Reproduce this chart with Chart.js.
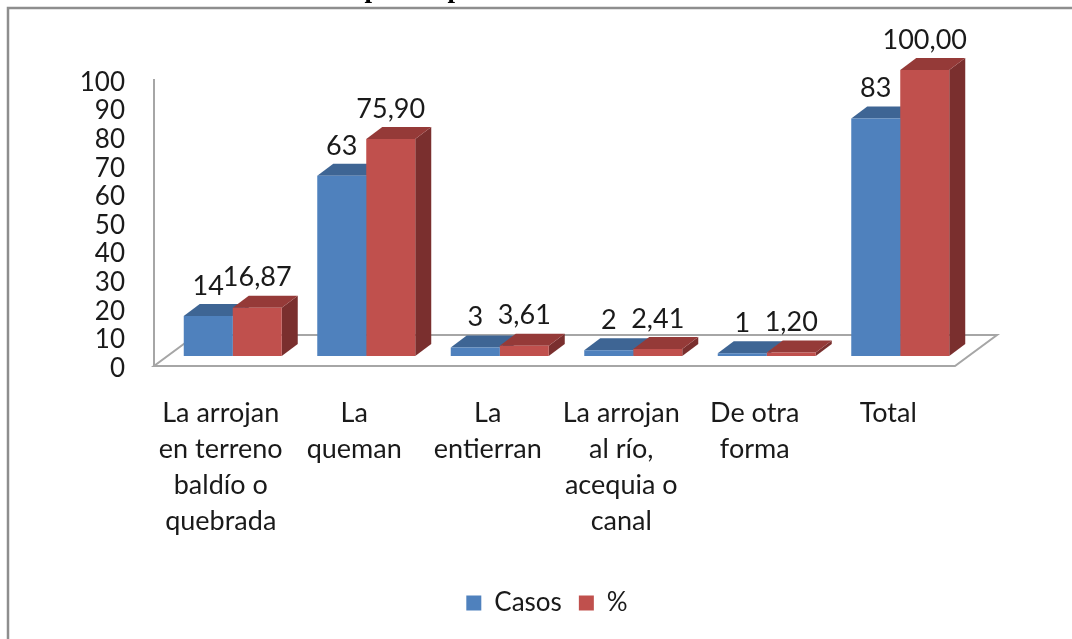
<!DOCTYPE html>
<html>
<head>
<meta charset="utf-8">
<script src="https://cdn.jsdelivr.net/npm/chart.js@4"></script>
<style>
html,body{margin:0;padding:0;background:#fff;}
#wrap{width:1072px;height:639px;}
canvas{filter:blur(0.4px);}
</style>
</head>
<body>
<div id="wrap"><canvas id="myChart"></canvas></div>
<script>
// データ
var categories = [
    ["La arrojan", "en terreno", "baldío o", "quebrada"],
    ["La", "queman"],
    ["La", "entierran"],
    ["La arrojan", "al río,", "acequia o", "canal"],
    ["De otra", "forma"],
    ["Total"]
];
var casos = [14, 63, 3, 2, 1, 83];
var porcentaje = [16.87, 75.90, 3.61, 2.41, 1.20, 100.00];
var seriesNames = ["Casos", "%"];

var FONT = "Lato";
// 3D look: front faces are shifted off the axis, depth goes up and to the right
var shift = {x: 12, y: -10};
var depth = {x: 16, y: -12};
var floorDepth = {x: 42, y: -31};
var axisGray = "#a6a6a6";
var faces = [
    {front: "#4f81bd", top: "#3e6594", side: "#2f4d71"},
    {front: "#c0504d", top: "#953a38", side: "#7a2f2e"}
];

function poly(ctx, pts, color){
    ctx.fillStyle = color;
    ctx.beginPath();
    ctx.moveTo(pts[0][0], pts[0][1]);
    for(var i = 1; i < pts.length; i++){
        ctx.lineTo(pts[i][0], pts[i][1]);
    }
    ctx.closePath();
    ctx.fill();
}

// marco y fragmento del título cortado arriba
var framePlugin = {
    id: "frame",
    afterLayout: function(chart){
        // Lato sits a bit high on a "middle" baseline, push the y labels down
        chart.scales.y.getLabelItems().forEach(function(item){
            item.options.translation[1] += 2.5;
        });
    },
    beforeDraw: function(chart){
        var ctx = chart.ctx;
        ctx.save();
        ctx.strokeStyle = "#8e8e8e";
        ctx.lineWidth = 2.5;
        ctx.beginPath();
        ctx.moveTo(8, chart.height);
        ctx.lineTo(8, 8);
        ctx.lineTo(chart.width, 8);
        ctx.stroke();
        ctx.fillStyle = "#000";
        ctx.font = "bold 27px 'Liberation Serif'";
        ctx.textAlign = "center";
        ctx.textBaseline = "alphabetic";
        ctx.fillText("p", 372, -3);
        ctx.fillText("p", 455, -3);
        ctx.restore();
    }
};

var bars3dPlugin = {
    id: "bars3d",
    beforeDatasetsDraw: function(chart){
        var ctx = chart.ctx;
        var a = chart.chartArea;
        // piso
        ctx.save();
        ctx.strokeStyle = axisGray;
        ctx.lineWidth = 2;
        ctx.beginPath();
        ctx.moveTo(a.left, a.bottom);
        ctx.lineTo(a.right, a.bottom);
        ctx.lineTo(a.right + floorDepth.x, a.bottom + floorDepth.y);
        ctx.lineTo(a.left + floorDepth.x, a.bottom + floorDepth.y);
        ctx.closePath();
        ctx.stroke();
        ctx.restore();

        ctx.save();
        ctx.translate(shift.x, shift.y);
        chart.data.datasets.forEach(function(ds, d){
            chart.getDatasetMeta(d).data.forEach(function(bar){
                var l = bar.x - bar.width / 2, r = bar.x + bar.width / 2;
                var t = bar.y, b = bar.base;
                poly(ctx, [[r, t], [r + depth.x, t + depth.y], [r + depth.x, b + depth.y], [r, b]], faces[d].side);
                poly(ctx, [[l, t], [l + depth.x, t + depth.y], [r + depth.x, t + depth.y], [r, t]], faces[d].top);
            });
        });
        // queda abierto hasta afterDatasetsDraw para mover también las caras frontales
    },
    afterDatasetsDraw: function(chart){
        var ctx = chart.ctx;
        ctx.textAlign = "center";
        ctx.textBaseline = "middle";
        ctx.fillStyle = "#1a1a1a";
        ctx.font = "27px " + FONT;
        chart.data.datasets.forEach(function(ds, d){
            chart.getDatasetMeta(d).data.forEach(function(bar, i){
                var txt = d == 0 ? String(ds.data[i]) : ds.data[i].toFixed(2).replace(".", ",");
                ctx.fillText(txt, bar.x, bar.y - 30);
            });
        });
        ctx.restore();
    }
};

var ctx = document.getElementById("myChart").getContext("2d");
var myChart = new Chart(ctx, {
    type: "bar",
    data: {
        labels: categories,
        datasets: [
            {label: seriesNames[0], data: casos, backgroundColor: faces[0].front, clip: false},
            {label: seriesNames[1], data: porcentaje, backgroundColor: faces[1].front, clip: false}
        ]
    },
    options: {
        responsive: true,
        maintainAspectRatio: false,
        animation: false,
        layout: {padding: {left: 22, right: 0, top: 80, bottom: 13}},
        datasets: {bar: {barPercentage: 1, categoryPercentage: 0.734}},
        plugins: {
            title: {display: false},
            tooltip: {enabled: false},
            legend: {
                position: "bottom",
                labels: {
                    boxWidth: 15,
                    boxHeight: 15,
                    padding: 17,
                    color: "#1a1a1a",
                    font: {family: FONT, size: 26}
                }
            }
        },
        scales: {
            x: {
                grid: {display: false, drawTicks: false},
                border: {display: false},
                afterFit: function(scale){ scale.height = 207; },
                ticks: {
                    color: "#1a1a1a",
                    padding: 29,
                    maxRotation: 0,
                    autoSkip: false,
                    font: {family: FONT, size: 27, lineHeight: 1.333}
                }
            },
            y: {
                min: 0,
                max: 100,
                grid: {display: false, drawTicks: false},
                border: {display: true, color: axisGray, width: 2},
                afterFit: function(scale){ scale.width = 132; },
                ticks: {
                    stepSize: 10,
                    autoSkip: false,
                    padding: 29,
                    color: "#1a1a1a",
                    font: {family: FONT, size: 26}
                }
            },
            // eje vacío a la derecha, solo reserva el espacio del piso
            yRight: {
                position: "right",
                grid: {display: false, drawTicks: false},
                border: {display: false},
                ticks: {display: false},
                afterFit: function(scale){ scale.width = 117; }
            }
        }
    },
    plugins: [framePlugin, bars3dPlugin]
});
</script>
</body>
</html>
